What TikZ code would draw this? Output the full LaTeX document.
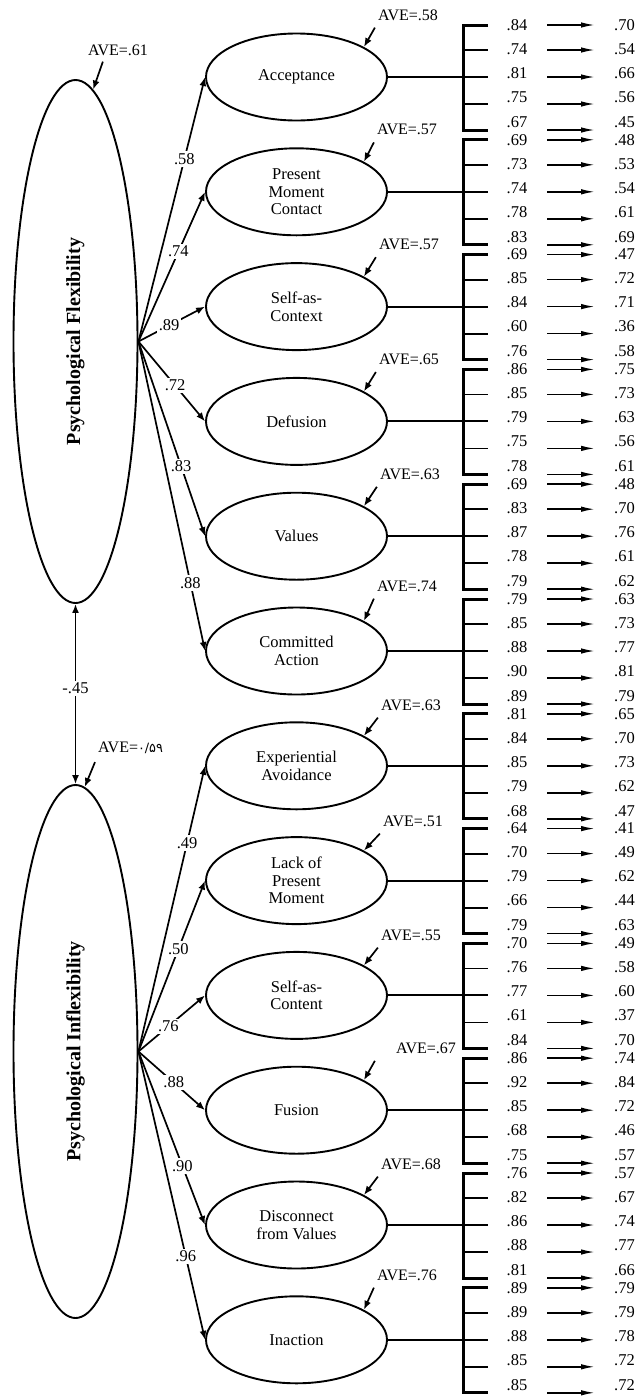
\documentclass[tikz,border=0pt]{standalone}
\usepackage{fontspec}
\setmainfont{Liberation Serif}
\newfontfamily\arabicfont[Script=Arabic,Scale=0.8]{DejaVu Sans}
\usepackage{tikz}
\usetikzlibrary{arrows.meta}
\usetikzlibrary{shapes.geometric}

\begin{document}
\begin{tikzpicture}[
  x=1pt, y=-1pt,
  latent/.style={
      draw=black,
      ellipse,
      line width=1.9pt,
      rotate=90,
      minimum width=523pt,
      minimum height=124pt,
      inner sep=0pt,
      font=\fontsize{20}{22}\selectfont\bfseries
  },
  factor/.style={
      draw=black,
      ellipse,
      line width=1.9pt,
      minimum width=181pt,
      minimum height=87pt,
      inner sep=0pt,
      align=center,
      font=\fontsize{16.5}{17.5}\selectfont
  },
  num/.style={inner sep=1pt, font=\fontsize{16.5}{18}\selectfont},
  ave/.style={inner sep=1pt, font=\fontsize{16}{18}\selectfont},
  coef/.style={fill=white, inner sep=2pt, font=\fontsize{16.5}{18}\selectfont},
  arr/.style={-{Latex[length=9pt,width=7pt]}, line width=1.7pt},
  dbl/.style={{Latex[length=9pt,width=7pt]}-{Latex[length=9pt,width=7pt]}, line width=1.7pt},
  ind/.style={-{Latex[length=14pt,width=5.5pt]}, line width=1.6pt},
  link/.style={line width=1.9pt},
  brk/.style={line width=3pt},
  stub/.style={line width=1.8pt}
]

\useasboundingbox (0,0) rectangle (636,1398);

% latent variables
\node[latent] (flex)   at (75.5,341.5)  {Psychological Flexibility};
\node[latent, minimum width=533pt] (inflex) at (75.5,1051.5) {Psychological Inflexibility};

\node[ave] (ave-flex) at (118,50) {AVE=.61};
\node[ave, anchor=west] (ave-inflex) at (97,748) {AVE={\arabicfont ۰/۵۹}};
\draw[arr] ([shift={(16pt,-5pt)}]ave-flex.south west) -- (flex.-4);
\draw[arr] ([shift={(-2pt,-7pt)}]ave-inflex.south west) -- (inflex.-2);

\draw[dbl] (flex.west) -- node[coef, pos=0.47] {-.45} (inflex.east);

% first order factors
\node[factor] (acc) at (296.5,77)     {Acceptance};
\node[factor] (pmc) at (296.5,191.8)  {Present\\Moment\\Contact};
\node[factor] (sac) at (296.5,306.6)  {Self-as-\\Context};
\node[factor] (def) at (296.5,421.4)  {Defusion};
\node[factor] (val) at (296.5,536.2)  {Values};
\node[factor] (com) at (296.5,651)    {Committed\\Action};
\node[factor] (exp) at (296.5,765.8)  {Experiential\\Avoidance};
\node[factor] (lac) at (296.5,880.6)  {Lack of\\Present\\Moment};
\node[factor] (soc) at (296.5,995.4)  {Self-as-\\Content};
\node[factor] (fus) at (296.5,1110.2) {Fusion};
\node[factor] (dis) at (296.5,1225)   {Disconnect\\from Values};
\node[factor] (ina) at (296.5,1339.8) {Inaction};

\node[ave] (ave-acc) at (408,15)     {AVE=.58};
\node[ave] (ave-pmc) at (407,129.8)  {AVE=.57};
\node[ave] (ave-sac) at (409,244.6)  {AVE=.57};
\node[ave] (ave-def) at (409,359.4)  {AVE=.65};
\node[ave] (ave-val) at (410,474.2)  {AVE=.63};
\node[ave] (ave-com) at (407,586)    {AVE=.74};
\node[ave] (ave-exp) at (411,705)    {AVE=.63};
\node[ave] (ave-lac) at (413,821)    {AVE=.51};
\node[ave] (ave-soc) at (411,935)    {AVE=.55};
\node[ave] (ave-fus) at (426,1048.2) {AVE=.67};
\node[ave] (ave-dis) at (411,1164)   {AVE=.68};
\node[ave] (ave-ina) at (407,1275)   {AVE=.76};

\draw[arr] ([shift={(-2pt,-6pt)}]ave-acc.south west) -- (acc.24);
\draw[arr] ([shift={(-2pt,-6pt)}]ave-pmc.south west) -- (pmc.24);
\draw[arr] ([shift={(-2pt,-6pt)}]ave-sac.south west) -- (sac.24);
\draw[arr] ([shift={(-2pt,-6pt)}]ave-def.south west) -- (def.24);
\draw[arr] ([shift={(-2pt,-6pt)}]ave-val.south west) -- (val.24);
\draw[arr] ([shift={(-2pt,-6pt)}]ave-com.south west) -- (com.24);
\draw[arr] ([shift={(-2pt,-6pt)}]ave-exp.south west) -- (exp.24);
\draw[arr] ([shift={(-2pt,-6pt)}]ave-lac.south west) -- (lac.24);
\draw[arr] ([shift={(-2pt,-6pt)}]ave-soc.south west) -- (soc.24);
\draw[arr] ([shift={(-20pt,-6pt)}]ave-fus.south west) -- (fus.24);
\draw[arr] ([shift={(-2pt,-6pt)}]ave-dis.south west) -- (dis.24);
\draw[arr] ([shift={(-2pt,-6pt)}]ave-ina.south west) -- (ina.24);

% structural paths
\draw[arr] (flex.south) -- node[coef, pos=0.69] {.58} (acc.west);
\draw[arr] (flex.south) -- node[coef, pos=0.60] {.74} (pmc.west);
\draw[arr] (flex.south) -- node[coef, pos=0.46] {.89} (sac.west);
\draw[arr] (flex.south) -- node[coef, pos=0.55] {.72} (def.west);
\draw[arr] (flex.south) -- node[coef, pos=0.64] {.83} (val.west);
\draw[arr] (flex.south) -- node[coef, pos=0.78] {.88} (com.west);
\draw[arr] (inflex.south) -- node[coef, pos=0.73] {.49} (exp.west);
\draw[arr] (inflex.south) -- node[coef, pos=0.60] {.50} (lac.west);
\draw[arr] (inflex.south) -- node[coef, pos=0.45] {.76} (soc.west);
\draw[arr] (inflex.south) -- node[coef, pos=0.53] {.88} (fus.west);
\draw[arr] (inflex.south) -- node[coef, pos=0.66] {.90} (dis.west);
\draw[arr] (inflex.south) -- node[coef, pos=0.71] {.96} (ina.west);

% items: loading -> residual
\foreach \f/\c/\rows in {
  acc/77/{.84/.70,.74/.54,.81/.66,.75/.56,.67/.45},
  pmc/191.8/{.69/.48,.73/.53,.74/.54,.78/.61,.83/.69},
  sac/306.6/{.69/.47,.85/.72,.84/.71,.60/.36,.76/.58},
  def/421.4/{.86/.75,.85/.73,.79/.63,.75/.56,.78/.61},
  val/536.2/{.69/.48,.83/.70,.87/.76,.78/.61,.79/.62},
  com/651/{.79/.63,.85/.73,.88/.77,.90/.81,.89/.79},
  exp/765.8/{.81/.65,.84/.70,.85/.73,.79/.62,.68/.47},
  lac/880.6/{.64/.41,.70/.49,.79/.62,.66/.44,.79/.63},
  soc/995.4/{.70/.49,.76/.58,.77/.60,.61/.37,.84/.70},
  fus/1110.2/{.86/.74,.92/.84,.85/.72,.68/.46,.75/.57},
  dis/1225/{.76/.57,.82/.67,.86/.74,.88/.77,.81/.66},
  ina/1339.8/{.89/.79,.89/.79,.88/.78,.85/.72,.85/.72}}
{
  \draw[brk] (488,{\c-52}) -- (463,{\c-52}) -- (463,{\c+53}) -- (488,{\c+53});
  \draw[stub] (463,{\c-27}) -- (488,{\c-27});
  \draw[stub] (463,{\c+27}) -- (488,{\c+27});
  \coordinate (\f-b) at (488,\c);
  \draw[link] (\f.east) -- (\f-b);
  \foreach \l/\r [count=\j from 0] in \rows {
    \pgfmathsetmacro\ya{{-52,-27,0,27,53}[\j]}
    \pgfmathsetmacro\yt{{-52,-28,-4,20,45}[\j]}
    \node[num] (\f-l\j) at (517,{\c+(\yt)}) {\l};
    \node[num, anchor=west] (\f-r\j) at (613,{\c+(\yt)}) {\r};
    \coordinate (\f-s\j) at (547,{\c+(\ya)});
    \coordinate (\f-e\j) at (595,{\c+(\ya)});
    \draw[ind] (\f-s\j) -- (\f-e\j);
  }
}

\end{tikzpicture}
\end{document}
